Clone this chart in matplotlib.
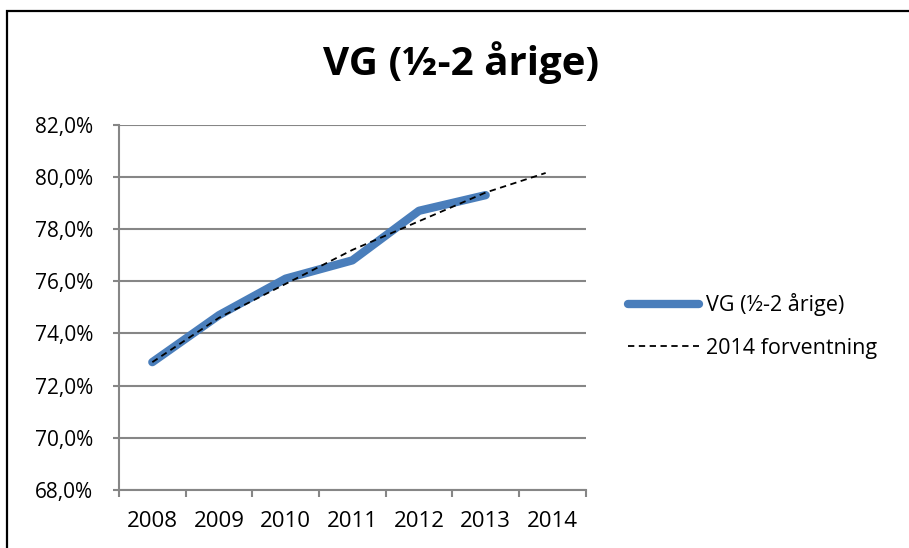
import matplotlib.pyplot as plt
from matplotlib.patches import Rectangle

# data
years = [2008, 2009, 2010, 2011, 2012, 2013]
vg_values = [72.9, 74.7, 76.1, 76.8, 78.7, 79.3]

trend_years = [2008, 2009, 2010, 2011, 2012, 2013, 2013.9]
trend_values = [72.9, 74.6, 75.9, 77.2, 78.3, 79.4, 80.15]

tick_years = [2008, 2009, 2010, 2011, 2012, 2013, 2014]
y_ticks = [68, 70, 72, 74, 76, 78, 80, 82]

title = 'VG (½-2 årige)'
series_label = 'VG (½-2 årige)'
trend_label = '2014 forventning'

plt.rcParams['font.family'] = ['Open Sans', 'DejaVu Sans']

grid_col = '#868686'
blue = '#4a7ebb'

fig = plt.figure(figsize=(9.09, 5.48), dpi=100)
ax = fig.add_axes([0.1309, 0.1058, 0.5134, 0.6667])

line1, = ax.plot(years, vg_values, color=blue, lw=6, solid_capstyle='round',
                 solid_joinstyle='round', label=series_label, zorder=3)
line2, = ax.plot(trend_years, trend_values, color='black', lw=1.3,
                 dashes=(3.5, 2.5), label=trend_label, zorder=4)

ax.set_xlim(2007.5, 2014.5)
ax.set_ylim(68, 82)
ax.set_yticks(y_ticks)
ax.set_yticklabels([f'{v:.1f}%'.replace('.', ',') for v in y_ticks])

# category labels sit between the tick marks, like excel
ax.set_xticks([y - 0.5 for y in tick_years] + [2014.5])
ax.set_xticklabels([])
ax.set_xticks(tick_years, minor=True)
ax.set_xticklabels([str(y) for y in tick_years], minor=True)
ax.tick_params(axis='x', which='minor', length=0, labelsize=16, pad=15)
ax.tick_params(axis='x', which='major', length=5, width=1.5, color=grid_col)
ax.tick_params(axis='y', length=4.5, width=1.5, color=grid_col, labelsize=15,
               pad=14)

ax.grid(axis='y', color=grid_col, lw=1.5)
ax.set_axisbelow(True)
for side in ['top', 'right']:
    ax.spines[side].set_visible(False)
for side in ['left', 'bottom']:
    ax.spines[side].set_color(grid_col)
    ax.spines[side].set_linewidth(1.5)

fig.text(0.507, 0.885, title, ha='center', va='center', fontsize=29,
         fontweight='bold')

fig.legend(handles=[line1, line2], loc='center left',
           bbox_to_anchor=(0.670, 0.405), frameon=False, fontsize=15.5,
           handlelength=3.3, handletextpad=0.3, labelspacing=1.0)

# chart frame (only left/top edges visible in the crop)
fig.patches.append(Rectangle((7 / 909, -0.1), 1.2, 1.1 - 11 / 548,
                             transform=fig.transFigure, fill=False,
                             edgecolor='black', lw=1.6))

fig.savefig('out.png', dpi=100)
